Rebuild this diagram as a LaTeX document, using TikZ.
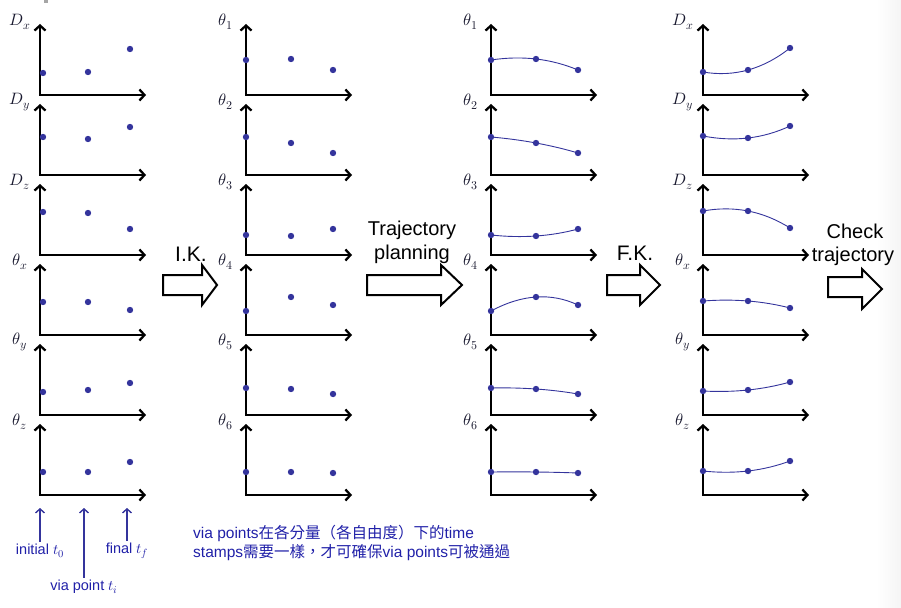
\documentclass[tikz,border=0pt]{standalone}
\usepackage{fontspec}
\usepackage{unicode-math}
\setmathfont{Latin Modern Math}
\setmainfont{Liberation Sans}
\newfontfamily\cjk{Noto Sans CJK TC}
\usetikzlibrary{arrows.meta}
\definecolor{dotblue}{HTML}{34349C}
\definecolor{labcol}{HTML}{1A1A30}
\definecolor{txtblue}{HTML}{2020A8}
\newcommand{\sbl}[1]{_{\hbox{\fontsize{12}{12}\selectfont$#1$}}}
\newcommand{\sbt}[1]{_{\hbox{\fontsize{10.5}{11}\selectfont$#1$}}}
\tikzset{
  axis/.style={line width=2.3pt, {Straight Barb[length=5pt,width=11pt]}-{Straight Barb[length=5pt,width=11pt]}},
  lab/.style={text=labcol, inner sep=0pt, font=\fontsize{16.5}{19}\selectfont},
  dotf/.style={fill=dotblue},
  traj/.style={draw=dotblue, line width=0.9pt},
  blockarrow/.style={draw=black, fill=white, line width=2pt, line join=miter},
  bigtxt/.style={inner sep=0pt, anchor=base, font=\fontsize{20}{24}\selectfont},
  bottxt/.style={text=txtblue, inner sep=2pt, font=\fontsize{14.5}{17}\selectfont},
  notetxt/.style={text=txtblue, inner sep=0pt, anchor=base west, font=\fontsize{15.5}{19}\selectfont},
  barrow/.style={draw=dotblue, line width=1.4pt, -{Straight Barb[length=4pt,width=9pt]}}
}
% #1 name, #2 axis x, #3 first dot x, #4 corner y, #5 label, #6-#8 dot y, #9 curve flag
\newcommand{\pnl}[9]{%
  \draw[axis] (#2,#4-71) -- (#2,#4) -- (#2+106,#4);
  \node[lab] (#1) at (#2-20,#4-73) {$#5$};
  \ifnum#9=1
    \draw[traj] (#3,#6) .. controls ({(4*(#3+45)-(#3+87))/3},{(4*#7-#8)/3}) and ({(4*(#3+45)-#3)/3},{(4*#7-#6)/3}) .. (#3+87,#8);
  \fi
  \fill[dotf] (#3,#6) circle (3.2pt) (#3+45,#7) circle (3.2pt) (#3+87,#8) circle (3.2pt);
}
\begin{document}
\begin{tikzpicture}[x=1pt,y=-1pt]
\useasboundingbox (0,0) rectangle (901,607);
\shade[left color=white, right color=black!4] (876,0) rectangle (901,607);
\fill[gray!70] (44,0) rectangle (48,3);

% column 1
\pnl{a1}{40}{43}{95}{D\sbl{x}}{73}{72}{49}{0}
\pnl{a2}{40}{43}{175}{D\sbl{y}}{137}{139}{127}{0}
\pnl{a3}{40}{43}{255}{D\sbl{z}}{212}{213}{229}{0}
\pnl{a4}{40}{43}{335}{\theta\sbl{x}}{302}{302}{310}{0}
\pnl{a5}{40}{43}{415}{\theta\sbl{y}}{392}{390}{383}{0}
\pnl{a6}{40}{43}{495}{\theta\sbl{z}}{472}{472}{462}{0}

% column 2
\pnl{b1}{246}{246}{95}{\theta\sbl{1}}{60}{59}{70}{0}
\pnl{b2}{246}{246}{175}{\theta\sbl{2}}{137}{143}{153}{0}
\pnl{b3}{246}{246}{255}{\theta\sbl{3}}{235}{236}{229}{0}
\pnl{b4}{246}{246}{335}{\theta\sbl{4}}{311}{297}{305}{0}
\pnl{b5}{246}{246}{415}{\theta\sbl{5}}{388}{389}{394}{0}
\pnl{b6}{246}{246}{495}{\theta\sbl{6}}{472}{472}{473}{0}

% column 3
\pnl{c1}{491}{491}{95}{\theta\sbl{1}}{60}{59}{70}{1}
\pnl{c2}{491}{491}{175}{\theta\sbl{2}}{137}{143}{153}{1}
\pnl{c3}{491}{491}{255}{\theta\sbl{3}}{235}{236}{229}{1}
\pnl{c4}{491}{491}{335}{\theta\sbl{4}}{311}{297}{305}{1}
\pnl{c5}{491}{491}{415}{\theta\sbl{5}}{388}{389}{394}{1}
\pnl{c6}{491}{491}{495}{\theta\sbl{6}}{472}{472}{473}{1}

% column 4
\pnl{d1}{703}{703}{95}{D\sbl{x}}{72}{70}{48}{1}
\pnl{d2}{703}{703}{175}{D\sbl{y}}{136}{138}{126}{1}
\pnl{d3}{703}{703}{255}{D\sbl{z}}{211}{211}{228}{1}
\pnl{d4}{703}{703}{335}{\theta\sbl{x}}{301}{301}{308}{1}
\pnl{d5}{703}{703}{415}{\theta\sbl{y}}{391}{390}{382}{1}
\pnl{d6}{703}{703}{495}{\theta\sbl{z}}{471}{471}{461}{1}

% block arrows
\draw[blockarrow] (163,275) -- (202,275) -- (202,265) -- (217,285) -- (202,305) -- (202,295) -- (163,295) -- cycle;
\draw[blockarrow] (367,275) -- (441,275) -- (441,265) -- (462,285) -- (441,305) -- (441,295) -- (367,295) -- cycle;
\draw[blockarrow] (607,275) -- (640,275) -- (640,265) -- (660,285) -- (640,305) -- (640,295) -- (607,295) -- cycle;
\draw[blockarrow] (828,277) -- (862,277) -- (862,269) -- (882,289) -- (862,309) -- (862,297) -- (828,297) -- cycle;

\node[bigtxt, font=\fontsize{21}{24}\selectfont] (ik) at (191,261) {I.K.};
\node[bigtxt] (tp1) at (412,235) {Trajectory};
\node[bigtxt] (tp2) at (412,259) {planning};
\node[bigtxt, font=\fontsize{21}{24}\selectfont] (fk) at (635,260) {F.K.};
\node[bigtxt] (ck1) at (855,238) {Check};
\node[bigtxt] (ck2) at (853,261) {trajectory};

% bottom time labels
\coordinate (tip0) at (40,508);
\coordinate (tipi) at (84,508);
\coordinate (tipf) at (127,508);
\node[bottxt] (init) at (40,551) {initial $t\sbt{0}$};
\node[bottxt] (via) at (84,587) {via point $t\sbt{i}$};
\node[bottxt] (fin) at (127,551) {final $t\sbt{f}$};
\draw[barrow] (init.north) -- (tip0);
\draw[barrow] (via.north) -- (tipi);
\draw[barrow] (fin.north) -- (tipf);

% note
\node[notetxt] (n1) at (193,538) {via points{\cjk 在各分量（各自由度）下的}time};
\node[notetxt] (n2) at (193,557) {stamps{\cjk 需要一樣，才可確保}via points{\cjk 可被通過}};
\end{tikzpicture}
\end{document}
